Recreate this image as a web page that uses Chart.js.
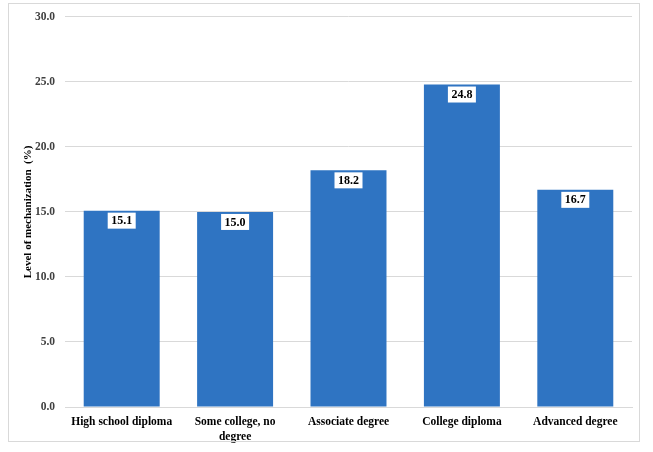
<!DOCTYPE html>
<html>
<head>
<meta charset="utf-8">
<script src="https://cdn.jsdelivr.net/npm/chart.js@4"></script>
<style>
  body { margin: 0; background: #fff; }
  #chart { position: absolute; left: 0; top: 0; display: block; }
  #frame { position: absolute; left: 8px; top: 3px; width: 632px; height: 439px;
           box-sizing: border-box; border: 1px solid #d9d9d9; pointer-events: none; }
</style>
</head>
<body>
<canvas id="chart" width="653" height="452"></canvas>
<div id="frame"></div>
<script>
const categories = [['High school diploma'], ['Some college, no', 'degree'], ['Associate degree'], ['College diploma'], ['Advanced degree']];
const values = [15.1, 15.0, 18.2, 24.8, 16.7];
const yTitle = 'Level of mechanization  (%)';

const serif = '"Liberation Serif", "Times New Roman", serif';

// white boxes with the value near the top of each bar
const valueLabels = {
    id: 'valueLabels',
    afterDatasetsDraw(chart) {
        const ctx = chart.ctx;
        const meta = chart.getDatasetMeta(0);
        ctx.save();
        ctx.font = 'bold 12px ' + serif;
        ctx.textAlign = 'center';
        ctx.textBaseline = 'middle';
        meta.data.forEach((bar, i) => {
            const txt = values[i].toFixed(1);
            const w = ctx.measureText(txt).width + 7;
            const h = 16;
            const cy = bar.y + 10;
            ctx.fillStyle = '#ffffff';
            ctx.fillRect(bar.x - w / 2, cy - h / 2, w, h);
            ctx.fillStyle = '#000000';
            ctx.fillText(txt, bar.x, cy + 0.5);
        });
        ctx.restore();
    }
};

new Chart(document.getElementById('chart'), {
    type: 'bar',
    data: {
        labels: categories,
        datasets: [{
            data: values,
            backgroundColor: '#2f74c2',
            categoryPercentage: 1.0,
            barPercentage: 0.67
        }]
    },
    options: {
        responsive: false,
        animation: false,
        layout: { padding: { left: 0, right: 21, top: 6, bottom: 0 } },
        scales: {
            y: {
                min: 0,
                max: 30,
                afterFit(scale) { scale.width = 65; },
                ticks: {
                    stepSize: 5,
                    padding: 10,
                    color: '#404040',
                    font: { family: serif, size: 11.5, weight: 'bold' },
                    callback: v => v.toFixed(1)
                },
                grid: { color: '#d9d9d9', drawTicks: false },
                border: { display: false },
                title: {
                    display: true,
                    text: yTitle,
                    color: '#000',
                    padding: { top: 22, bottom: 0 },
                    font: { family: serif, size: 11, weight: 'bold' }
                }
            },
            x: {
                afterFit(scale) { scale.height = 45; },
                ticks: {
                    color: '#000',
                    padding: 8,
                    maxRotation: 0,
                    font: { family: serif, size: 11.5, weight: 'bold', lineHeight: 1.3 }
                },
                grid: { display: false, drawTicks: false },
                border: { color: '#d9d9d9' }
            }
        },
        plugins: {
            legend: { display: false },
            tooltip: { enabled: false }
        }
    },
    plugins: [valueLabels]
});
</script>
</body>
</html>
